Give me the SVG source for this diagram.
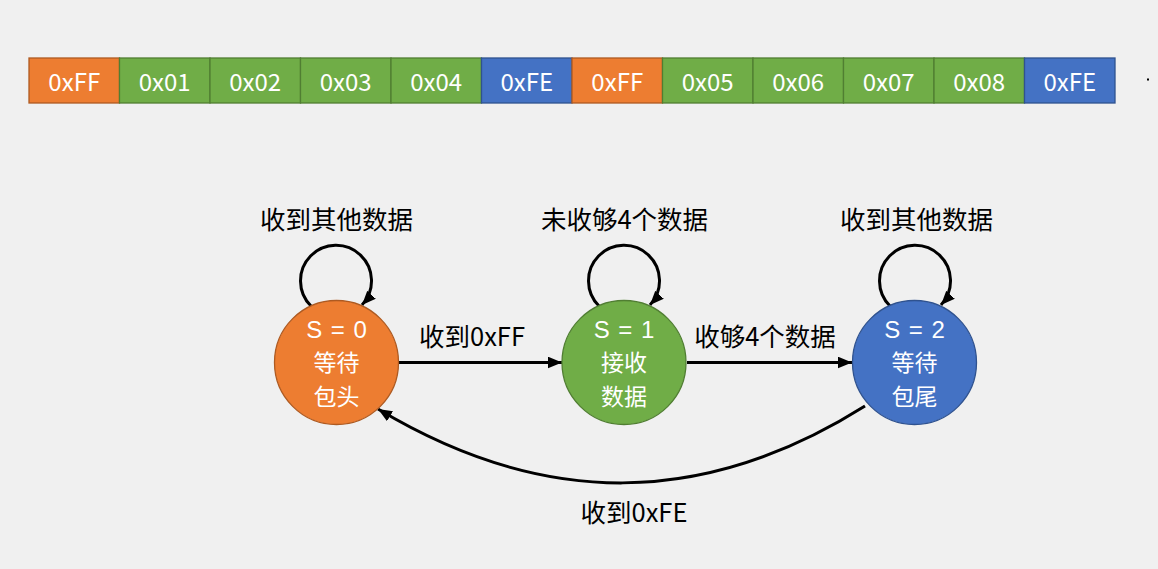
<svg xmlns="http://www.w3.org/2000/svg" width="1158" height="569" viewBox="0 0 1158 569">
<style>
  .cell text, .node text { font-family: "Noto Sans CJK SC", "Liberation Sans", sans-serif; fill: #fff; text-anchor: middle; dominant-baseline: central; }
  .cell text { font-size: 24px; }
  .node text { font-size: 23px; }
  .node text.s { font-family: "Liberation Sans", "Noto Sans CJK SC", sans-serif; font-size: 24px; word-spacing: 2px; }
  .lbl { font-family: "Noto Sans CJK SC", "Liberation Sans", sans-serif; font-size: 25.5px; fill: #000; text-anchor: middle; dominant-baseline: central; }
  .o { fill: #ED7D31; stroke: #AE5A21; }
  .g { fill: #70AD47; stroke: #507E32; }
  .b { fill: #4472C4; stroke: #2F528F; }
  .cell rect { stroke-width: 1.3; }
  .node circle { stroke-width: 1.3; }
  .edge { fill: none; stroke: #000; stroke-width: 3; marker-end: url(#arr); }
</style>
<defs>
  <marker id="arr" markerUnits="userSpaceOnUse" markerWidth="14" markerHeight="12" refX="12" refY="5" orient="auto" viewBox="0 0 12 10">
    <path d="M0,0 L12,5 L0,10 Z" fill="#000"/>
  </marker>
</defs>
<rect width="1158" height="569" fill="#F0F0F0"/>

<g id="bytes">
  <g class="cell" id="b0"><rect class="o" x="29" y="58" width="90.5" height="45"/><text x="74.25" y="80.5">0xFF</text></g>
  <g class="cell" id="b1"><rect class="g" x="119.5" y="58" width="90.5" height="45"/><text x="164.75" y="80.5">0x01</text></g>
  <g class="cell" id="b2"><rect class="g" x="210" y="58" width="90.5" height="45"/><text x="255.25" y="80.5">0x02</text></g>
  <g class="cell" id="b3"><rect class="g" x="300.5" y="58" width="90.5" height="45"/><text x="345.75" y="80.5">0x03</text></g>
  <g class="cell" id="b4"><rect class="g" x="391" y="58" width="90.5" height="45"/><text x="436.25" y="80.5">0x04</text></g>
  <g class="cell" id="b5"><rect class="b" x="481.5" y="58" width="90.5" height="45"/><text x="526.75" y="80.5">0xFE</text></g>
  <g class="cell" id="b6"><rect class="o" x="572" y="58" width="90.5" height="45"/><text x="617.25" y="80.5">0xFF</text></g>
  <g class="cell" id="b7"><rect class="g" x="662.5" y="58" width="90.5" height="45"/><text x="707.75" y="80.5">0x05</text></g>
  <g class="cell" id="b8"><rect class="g" x="753" y="58" width="90.5" height="45"/><text x="798.25" y="80.5">0x06</text></g>
  <g class="cell" id="b9"><rect class="g" x="843.5" y="58" width="90.5" height="45"/><text x="888.75" y="80.5">0x07</text></g>
  <g class="cell" id="b10"><rect class="g" x="934" y="58" width="90.5" height="45"/><text x="979.25" y="80.5">0x08</text></g>
  <g class="cell" id="b11"><rect class="b" x="1024.5" y="58" width="90.5" height="45"/><text x="1069.75" y="80.5">0xFE</text></g>
  <rect x="1147" y="78.5" width="2" height="2" fill="#000"/>
</g>

<g id="connectors">
  <path class="edge" d="M311 306 A35.5 35.5 0 1 1 362 305"/>
  <path class="edge" d="M599 306 A35.5 35.5 0 1 1 650 305"/>
  <path class="edge" d="M890 306 A35.5 35.5 0 1 1 941 305"/>
  <path class="edge" d="M399 362.5 L562 362.5"/>
  <path class="edge" d="M687 362.5 L852 362.5"/>
  <path class="edge" d="M865 406 C703 508 543 508 378 409"/>
  <text class="lbl" x="336.5" y="217">收到其他数据</text>
  <text class="lbl" x="624.5" y="217">未收够4个数据</text>
  <text class="lbl" x="916.5" y="217">收到其他数据</text>
  <text class="lbl" x="472" y="334">收到0xFF</text>
  <text class="lbl" x="765" y="334">收够4个数据</text>
  <text class="lbl" x="634" y="510">收到0xFE</text>
</g>

<g class="node" id="s0">
  <circle class="o" cx="336.5" cy="362.5" r="62"/>
  <text class="s" x="336.5" y="329.5">S = 0</text>
  <text x="336.5" y="361.2">等待</text>
  <text x="336.5" y="394.6">包头</text>
</g>
<g class="node" id="s1">
  <circle class="g" cx="624" cy="362.5" r="62"/>
  <text class="s" x="624" y="329.5">S = 1</text>
  <text x="624" y="361.2">接收</text>
  <text x="624" y="394.6">数据</text>
</g>
<g class="node" id="s2">
  <circle class="b" cx="914.5" cy="362.5" r="62"/>
  <text class="s" x="914.5" y="329.5">S = 2</text>
  <text x="914.5" y="361.2">等待</text>
  <text x="914.5" y="394.6">包尾</text>
</g>
</svg>
